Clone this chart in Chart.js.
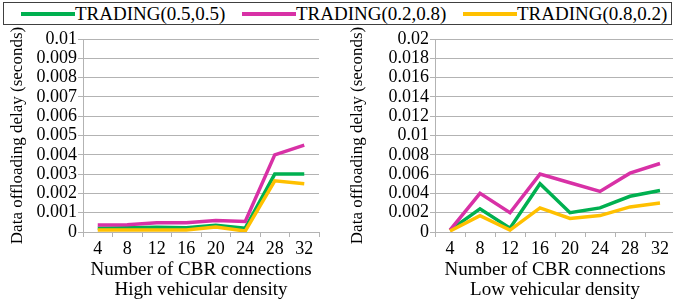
<!DOCTYPE html>
<html>
<head>
<meta charset="utf-8">
<script src="https://cdn.jsdelivr.net/npm/chart.js@4"></script>
<style>
  body { margin: 0; width: 673px; height: 303px; overflow: hidden; background: #fff; position: relative; font-family: "Liberation Serif", "Times New Roman", serif; }
  #left { position: absolute; left: 0; top: 0; }
  #right { position: absolute; left: 340px; top: 0; }
  #legend { position: absolute; left: 3px; top: 2px; width: 667px; height: 21px; border: 1px solid #404040; background: #fff; z-index: 2; }
  .item { position: absolute; top: 0; height: 21px; line-height: 21px; font-size: 19px; color: #000; white-space: nowrap; }
  .sw { display: inline-block; width: 54px; height: 4px; vertical-align: middle; margin-top: -3px; }
</style>
</head>
<body>
<div id="legend"></div>
<canvas id="left" width="340" height="303"></canvas>
<canvas id="right" width="340" height="303"></canvas>
<script>
// categories (number of CBR connections)
let connections = ['4', '8', '12', '16', '20', '24', '28', '32']

// series names and colours
let seriesNames = ['TRADING(0.5,0.5)', 'TRADING(0.2,0.8)', 'TRADING(0.8,0.2)']
let seriesColors = ['#00b050', '#d831a6', '#ffc000']

// high vehicular density (seconds)
let highGreen  = [0.0002, 0.00022, 0.00025, 0.00022, 0.00035, 0.0002, 0.003, 0.003]
let highPink   = [0.00036, 0.00038, 0.00048, 0.00048, 0.0006, 0.00055, 0.004, 0.0045]
let highYellow = [0.0001, 0.0001, 0.0001, 0.0001, 0.00026, 0.00005, 0.00265, 0.0025]

// low vehicular density (seconds)
let lowGreen  = [0.0002, 0.0024, 0.0004, 0.005, 0.002, 0.0025, 0.0037, 0.0043]
let lowPink   = [0.0002, 0.004, 0.002, 0.006, 0.0051, 0.0042, 0.0061, 0.0071]
let lowYellow = [0.0001, 0.0017, 0.0002, 0.0025, 0.0014, 0.0017, 0.0026, 0.003]

const FONT = '"Liberation Serif", "Times New Roman", serif'
const GRID = '#b3b3b3'
Chart.defaults.font.family = FONT
Chart.defaults.color = '#000'

// html legend across the top
let legendPos = [17, 238, 459]
let legendBox = document.getElementById('legend')
for (let i = 0; i < seriesNames.length; i++) {
    let d = document.createElement('div')
    d.className = 'item'
    d.style.left = legendPos[i] + 'px'
    d.innerHTML = '<span class="sw" style="background:' + seriesColors[i] + '"></span>' + seriesNames[i]
    legendBox.appendChild(d)
}

function makeChart(id, values, yMax, yStep, subtitle, yWidth, padRight) {
    let ctx = document.getElementById(id).getContext('2d')
    return new Chart(ctx, {
        type: 'line',
        data: {
            labels: connections,
            datasets: values.map(function (v, i) {
                return {
                    label: seriesNames[i],
                    data: v,
                    borderColor: seriesColors[i],
                    backgroundColor: seriesColors[i],
                    borderWidth: 3.5,
                    pointRadius: 0,
                    tension: 0,
                    order: 3 - i
                }
            })
        },
        options: {
            responsive: false,
            animation: false,
            layout: { padding: { top: 39, right: padRight, left: 0, bottom: 0 } },
            plugins: { legend: { display: false }, tooltip: { enabled: false } },
            scales: {
                x: {
                    offset: true,
                    grid: { display: true, drawOnChartArea: false, drawTicks: true, tickLength: 5, color: GRID, offset: true },
                    border: { color: GRID },
                    ticks: { color: '#000', font: { family: FONT, size: 18 }, padding: 1, maxRotation: 0, autoSkip: false },
                    title: {
                        display: true,
                        text: ['Number of CBR connections', subtitle],
                        color: '#000',
                        font: { family: FONT, size: 19, lineHeight: 1.05 },
                        padding: { top: 0, bottom: 3 }
                    },
                    afterFit: function (scale) { scale.height = 71 }
                },
                y: {
                    min: 0,
                    max: yMax,
                    grid: { color: GRID, drawTicks: true, tickLength: 5 },
                    border: { color: GRID },
                    ticks: {
                        stepSize: yStep,
                        autoSkip: false,
                        color: '#000',
                        font: { family: FONT, size: 18, lineHeight: 1 },
                        padding: 1,
                        callback: function (v) { return String(+v.toFixed(4)) }
                    },
                    title: {
                        display: true,
                        text: 'Data offloading delay (seconds)',
                        color: '#000',
                        font: { family: FONT, size: 17, lineHeight: 1.2 },
                        padding: { top: 7, bottom: 0 }
                    },
                    afterFit: function (scale) { scale.width = yWidth }
                }
            }
        }
    })
}

let leftChart = makeChart('left', [highGreen, highPink, highYellow], 0.01, 0.001, 'High vehicular density', 83, 21)
let rightChart = makeChart('right', [lowGreen, lowPink, lowYellow], 0.02, 0.002, 'Low vehicular density', 95, 5)
</script>
</body>
</html>
